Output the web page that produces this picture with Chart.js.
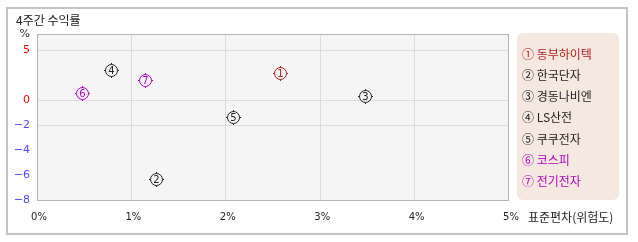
<!DOCTYPE html>
<html>
<head>
<meta charset="utf-8">
<script src="https://cdn.jsdelivr.net/npm/chart.js@4/dist/chart.umd.min.js"></script>
<style>
  html, body { margin: 0; padding: 0; background: #fff; }
  #wrap { width: 638px; height: 242px; }
</style>
</head>
<body>
<div id="wrap"><canvas id="riskChart" width="638" height="242"></canvas></div>
<script>
// 데이터
const stocks = ['동부하이텍', '한국단자', '경동나비엔', 'LS산전', '쿠쿠전자', '코스피', '전기전자'];
const marks = ['①', '②', '③', '④', '⑤', '⑥', '⑦'];
const riskValues = [2.57, 1.26, 3.47, 0.78, 2.08, 0.48, 1.14];     // 표준편차 (%)
const returnValues = [2.7, -6.3, 0.45, 3.0, -1.35, 0.75, 2.0];      // 4주간 수익률 (%)
const markColors = ['#b01c1c', '#222222', '#222222', '#222222', '#222222', '#b000c0', '#b000c0'];
const xTicks = [0, 1, 2, 3, 4, 5];
const yTicks = [-8, -6, -4, -2, 0, 5];
const yGridLines = [5, 0, -2];

const FONT = '"Noto Sans CJK KR", "DejaVu Sans", sans-serif';

// 음수 구간을 더 넓게 그리는 y축 (양수 1단위 10px, 음수 1단위 12.5px)
class SplitLinearScale extends Chart.LinearScale {
  _weight() {
    const r = this.options.negRatio || 1;
    return { r: r, total: this.max + r * (0 - this.min) };
  }
  getPixelForValue(value) {
    const { r, total } = this._weight();
    let d;
    if (value >= 0) d = (r * (0 - this.min) + value) / total;
    else d = r * (value - this.min) / total;
    return this.getPixelForDecimal(d);
  }
  getValueForPixel(pixel) {
    const { r, total } = this._weight();
    const d = this.getDecimalForPixel(pixel) * total;
    const zero = r * (0 - this.min);
    return d >= zero ? d - zero : d / r + this.min;
  }
}
SplitLinearScale.id = 'splitLinear';
SplitLinearScale.defaults = Chart.LinearScale.defaults;
Chart.register(SplitLinearScale);

// 동그라미 숫자 마커
function makeMarker(num, color) {
  const c = document.createElement('canvas');
  c.width = 19; c.height = 19;
  const g = c.getContext('2d');
  g.strokeStyle = color;
  g.lineWidth = 1;
  g.beginPath();
  g.arc(9.5, 9.5, 6, 0, Math.PI * 2);
  g.stroke();
  g.beginPath();
  g.moveTo(9.5, 2); g.lineTo(9.5, 3.5);
  g.moveTo(9.5, 15.5); g.lineTo(9.5, 17);
  g.moveTo(2, 9.5); g.lineTo(3.5, 9.5);
  g.moveTo(15.5, 9.5); g.lineTo(17, 9.5);
  g.stroke();
  g.fillStyle = color;
  g.font = '10px "DejaVu Sans", sans-serif';
  g.textAlign = 'center';
  g.textBaseline = 'middle';
  g.fillText(String(num), 9.5, 10);
  return c;
}
const markerImages = marks.map((m, i) => makeMarker(i + 1, markColors[i]));

// 배경, 테두리, 제목, 범례, 마커
const decoPlugin = {
  id: 'deco',
  beforeDraw(chart) {
    const ctx = chart.ctx;
    const a = chart.chartArea;
    ctx.save();
    ctx.fillStyle = '#ffffff';
    ctx.fillRect(0, 0, chart.width, chart.height);
    ctx.strokeStyle = '#c4c4c4';
    ctx.lineWidth = 2;
    ctx.strokeRect(7, 8, 620, 226);
    ctx.fillStyle = '#222';
    ctx.font = '12px ' + FONT;
    ctx.textBaseline = 'middle';
    ctx.fillText('4주간 수익률', 16, 20);
    ctx.fillStyle = '#f5f5f5';
    ctx.fillRect(a.left, a.top, a.right - a.left, a.bottom - a.top);
    ctx.restore();
  },
  beforeDatasetsDraw(chart) {
    const ctx = chart.ctx;
    const a = chart.chartArea;
    ctx.save();
    ctx.strokeStyle = '#b4b4b4';
    ctx.lineWidth = 1;
    ctx.strokeRect(a.left + 0.5, a.top + 0.5, a.right - a.left - 1, a.bottom - a.top);
    ctx.restore();
  },
  afterDatasetsDraw(chart) {
    const ctx = chart.ctx;
    const meta = chart.getDatasetMeta(0);
    meta.data.forEach((el, i) => {
      ctx.drawImage(markerImages[i], Math.round(el.x) - 9, Math.round(el.y) - 9);
    });
  },
  afterDraw(chart) {
    const ctx = chart.ctx;
    const a = chart.chartArea;
    ctx.save();
    // x축 제목
    ctx.fillStyle = '#222';
    ctx.font = '12px ' + FONT;
    ctx.textBaseline = 'middle';
    ctx.fillText('표준편차(위험도)', a.right + 19, 217);
    // 범례 상자
    const lx = a.right + 8, ly = a.top - 1, lw = 102, lh = a.bottom - a.top + 1;
    ctx.fillStyle = '#f5e8e1';
    ctx.beginPath();
    ctx.roundRect(lx, ly, lw, lh, 6);
    ctx.fill();
    ctx.font = '12px ' + FONT;
    stocks.forEach((name, i) => {
      ctx.fillStyle = markColors[i];
      ctx.fillText(marks[i] + ' ' + name, lx + 5, ly + 21 + i * 21.3);
    });
    ctx.restore();
  }
};

const ctx = document.getElementById('riskChart').getContext('2d');
const riskChart = new Chart(ctx, {
  type: 'scatter',
  data: {
    datasets: [{
      label: '4주간 수익률',
      data: riskValues.map((x, i) => ({ x: x, y: returnValues[i] })),
      pointRadius: 0,
      backgroundColor: markColors,
      borderColor: markColors
    }]
  },
  options: {
    responsive: false,
    animation: false,
    events: [],
    layout: { padding: { left: 0, right: 129, top: 34, bottom: 0 } },
    scales: {
      x: {
        type: 'linear',
        min: 0,
        max: 5,
        afterFit: (scale) => { scale.height = 42; },
        afterBuildTicks: (scale) => { scale.ticks = xTicks.map(v => ({ value: v })); },
        border: { display: false },
        grid: {
          drawTicks: false,
          color: (c) => (c.tick && c.tick.value > 0 && c.tick.value < 5) ? '#dcdcdc' : 'rgba(0,0,0,0)'
        },
        ticks: {
          padding: 11,
          labelOffset: 2,
          color: '#222',
          font: { family: '"DejaVu Sans", sans-serif', size: 10 },
          maxRotation: 0,
          callback: (v) => v + '%'
        }
      },
      y: {
        type: 'splitLinear',
        negRatio: 1.25,
        min: -8,
        max: 6.6,
        afterFit: (scale) => { scale.width = 37; },
        afterBuildTicks: (scale) => {
          scale.ticks = yTicks.concat([scale.max]).map(v => ({ value: v }));
        },
        border: { display: false },
        grid: {
          drawTicks: false,
          color: (c) => (c.tick && yGridLines.includes(c.tick.value)) ? '#dcdcdc' : 'rgba(0,0,0,0)'
        },
        ticks: {
          padding: 7,
          font: { family: '"DejaVu Sans", sans-serif', size: 11 },
          color: (c) => {
            const v = c.tick.value;
            if (v > 6) return '#333';
            return v >= 0 ? '#ff0000' : '#4a4aff';
          },
          callback: function (v) {
            if (v === this.max) return '%';
            return v < 0 ? '\u2212' + Math.abs(v) : String(v);
          }
        }
      }
    },
    plugins: {
      legend: { display: false },
      tooltip: { enabled: false }
    }
  },
  plugins: [decoPlugin]
});
</script>
</body>
</html>
